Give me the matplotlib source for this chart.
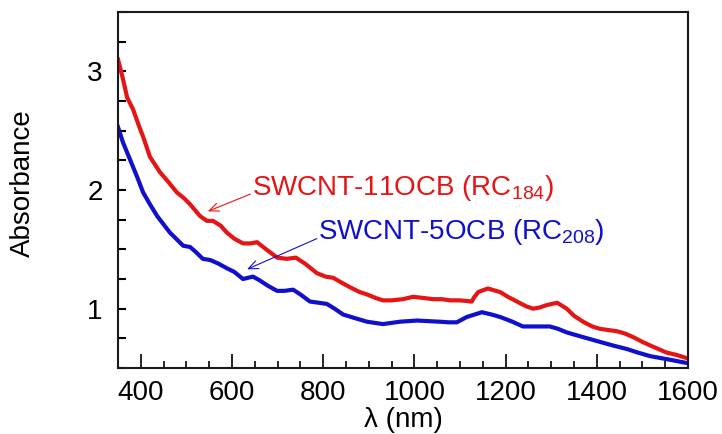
import matplotlib
matplotlib.use("Agg")
import matplotlib.pyplot as plt
from matplotlib.ticker import MultipleLocator

plt.rcParams['font.family'] = ['Liberation Sans', 'DejaVu Sans']
plt.rcParams['mathtext.default'] = 'regular'

# Data
red_x = [350, 360, 370, 383, 395, 405, 420, 442, 460, 479, 495, 508, 530, 545, 558, 575, 589, 605,
         624, 640, 655, 675, 699, 720, 740, 760, 786, 805, 822, 840, 859, 880, 896, 915, 931, 950,
         975, 997, 1020, 1041, 1060, 1078, 1100, 1126, 1130, 1140, 1161, 1188, 1205, 1225, 1245,
         1260, 1275, 1290, 1313, 1334, 1350, 1370, 1390, 1407, 1425, 1444, 1462, 1480, 1500, 1517,
         1535, 1553, 1575, 1600]
red_y = [3.10, 2.95, 2.78, 2.68, 2.55, 2.45, 2.28, 2.15, 2.07, 1.98, 1.93, 1.88, 1.78, 1.74, 1.74,
         1.70, 1.64, 1.59, 1.55, 1.55, 1.56, 1.50, 1.43, 1.42, 1.43, 1.38, 1.30, 1.27, 1.26, 1.22,
         1.18, 1.14, 1.12, 1.09, 1.07, 1.07, 1.08, 1.10, 1.09, 1.08, 1.08, 1.07, 1.07, 1.06, 1.09,
         1.14, 1.17, 1.14, 1.10, 1.06, 1.02, 1.00, 1.01, 1.03, 1.05, 1.00, 0.94, 0.89, 0.85, 0.83,
         0.82, 0.81, 0.79, 0.76, 0.72, 0.69, 0.66, 0.63, 0.61, 0.58]

blue_x = [350, 361, 376, 392, 405, 420, 436, 450, 464, 480, 493, 508, 520, 536, 552, 570, 589, 605,
          624, 646, 660, 680, 699, 715, 734, 750, 771, 790, 808, 825, 844, 870, 896, 931, 968, 1006,
          1030, 1056, 1075, 1093, 1115, 1148, 1170, 1188, 1215, 1238, 1265, 1297, 1315, 1334, 1370,
          1407, 1435, 1466, 1490, 1517, 1560, 1600]
blue_y = [2.53, 2.40, 2.26, 2.11, 1.98, 1.88, 1.78, 1.71, 1.64, 1.58, 1.53, 1.52, 1.48, 1.42, 1.41,
          1.38, 1.34, 1.31, 1.25, 1.27, 1.24, 1.19, 1.15, 1.15, 1.16, 1.12, 1.06, 1.05, 1.04, 1.00,
          0.95, 0.92, 0.89, 0.87, 0.89, 0.90, 0.895, 0.89, 0.885, 0.885, 0.93, 0.97, 0.95, 0.93,
          0.89, 0.85, 0.85, 0.85, 0.83, 0.80, 0.76, 0.72, 0.69, 0.66, 0.63, 0.60, 0.57, 0.54]

red_label = 'SWCNT-11OCB (RC$_{184}$)'
blue_label = 'SWCNT-5OCB (RC$_{208}$)'

RED = '#e51515'
BLUE = '#1010cc'

W, H = 722, 434
fig = plt.figure(figsize=(W / 100, H / 100), dpi=100)
ax = fig.add_axes([118 / W, 1 - 368 / H, (688 - 118) / W, (368 - 12) / H])

ax.plot(red_x, red_y, color=RED, lw=3.0, solid_joinstyle='round')
ax.plot(blue_x, blue_y, color=BLUE, lw=3.0, solid_joinstyle='round')

ax.set_xlim(350, 1600)
ax.set_ylim(0.5, 3.5)

ax.xaxis.set_major_locator(MultipleLocator(200))
ax.xaxis.set_minor_locator(MultipleLocator(50))
ax.yaxis.set_major_locator(MultipleLocator(1))
ax.yaxis.set_minor_locator(MultipleLocator(0.25))

ax.tick_params(axis='x', which='major', direction='in', length=10, width=1.2, labelsize=20, pad=9,
               top=False)
ax.tick_params(axis='x', which='minor', direction='in', length=5, width=1.2, top=False)
ax.tick_params(axis='y', which='both', direction='in', length=6, width=1.5, labelsize=20, pad=11,
               right=False)

for s in ax.spines.values():
    s.set_linewidth(1.5)
    s.set_color('#1a1a1a')

ax.set_xlabel('λ (nm)', fontsize=20)
ax.xaxis.set_label_coords(0.5, (368 - 407) / 356)
fig.text(23 / W, 1 - 183 / H, 'Absorbance', fontsize=20, rotation=90, ha='center', va='center')

ax.text(644, 1.96, red_label, color=RED, fontsize=20, ha='left', va='baseline')
ax.text(789, 1.584, blue_label, color=BLUE, fontsize=20, ha='left', va='baseline')

ax.annotate('', xy=(547, 1.82), xytext=(640, 1.965),
            arrowprops=dict(arrowstyle='->,head_length=0.7,head_width=0.3', color=RED, lw=0.8,
                            shrinkA=0, shrinkB=0))
ax.annotate('', xy=(633, 1.332), xytext=(786, 1.59),
            arrowprops=dict(arrowstyle='->,head_length=0.7,head_width=0.3', color=BLUE, lw=0.8,
                            shrinkA=0, shrinkB=0))

fig.savefig('out.png', dpi=100)
